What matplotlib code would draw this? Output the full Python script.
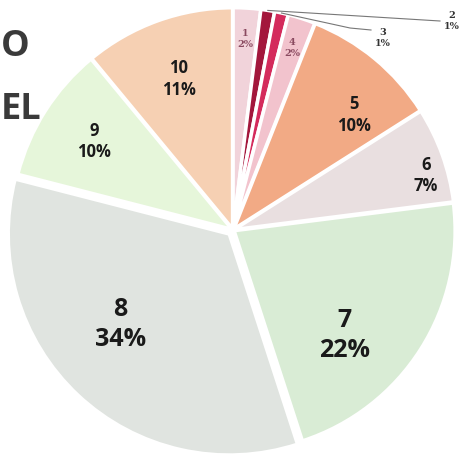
import matplotlib.pyplot as plt
import numpy as np

# slice data (clockwise from 12 o'clock)
labels = ['1', '2', '3', '4', '5', '6', '7', '8', '9', '10']
shares = [2, 1, 1, 2, 10, 7, 22, 34, 10, 11]
colors = ['#f1d3da', '#a3173c', '#d42b5c', '#f2c3cd', '#f2aa85',
          '#e9dfe0', '#d9ecd5', '#e0e4e0', '#e6f6da', '#f6d0b3']

fig = plt.figure(figsize=(4.62, 4.58), dpi=100)
ax = fig.add_axes([0, 0, 1, 1])

cx, cy, R = 233, 228, 221
explode = [f * R for f in [0.006, 0.006, 0.006, 0.006, 0.006, 0.006, 0.006, 0.025, 0.006, 0.006]]
wedges, _ = ax.pie(shares, colors=colors, explode=explode, startangle=90,
                   counterclock=False, center=(cx, cy), radius=R,
                   wedgeprops=dict(edgecolor='white', linewidth=2.5),
                   frame=True)
ax.set_xlim(0, 462)
ax.set_ylim(0, 458)
ax.set_aspect('equal')
ax.axis('off')

# label placement: radial fraction, angle nudge and font size per slice
dist = [0.86, 0, 0, 0.86, 0.75, 0.9, 0.69, 0.64, 0.74, 0.72]
nudge = [0, 0, 0, 0, -7, -4, -11, -7, 0, 0]
sizes = [7, 7, 7, 7, 12, 12, 18, 18, 12, 12]
for i, w in enumerate(wedges):
    ang = np.deg2rad((w.theta1 + w.theta2) / 2 + nudge[i])
    txt = f"{labels[i]}\n{shares[i]}%"
    if labels[i] in ('2', '3'):
        x0 = w.center[0] + R * np.cos(ang)
        y0 = w.center[1] + R * np.sin(ang)
        if labels[i] == '2':
            tx, ty = 452, 437
            ax.plot([x0, tx - 12], [y0, 437], color='#777777', lw=0.8)
        else:
            tx, ty = 383, 420
            ax.plot([x0, 350, tx - 12], [y0, 430, 428], color='#777777', lw=0.8)
        ax.text(tx, ty, txt, ha='center', va='center', fontsize=sizes[i],
                fontweight='bold', color='#333333', linespacing=1.3,
                family='DejaVu Serif')
        continue
    x = w.center[0] + R * dist[i] * np.cos(ang)
    y = w.center[1] + R * dist[i] * np.sin(ang)
    small = shares[i] < 5
    ax.text(x, y, txt, ha='center', va='center', fontsize=sizes[i],
            fontweight='bold', color='#8a4a60' if small else '#1a1a1a',
            linespacing=1.3 if small else 1.25,
            family='DejaVu Serif' if small else 'Open Sans')

# title fragments at the left edge
ax.text(1, 411, 'O', ha='left', va='center', fontsize=26,
        fontweight='bold', color='#3a3a3a', family='Open Sans')
ax.text(1, 348, 'EL', ha='left', va='center', fontsize=26,
        fontweight='bold', color='#3a3a3a', family='Open Sans')

fig.savefig('out.png', dpi=100)
